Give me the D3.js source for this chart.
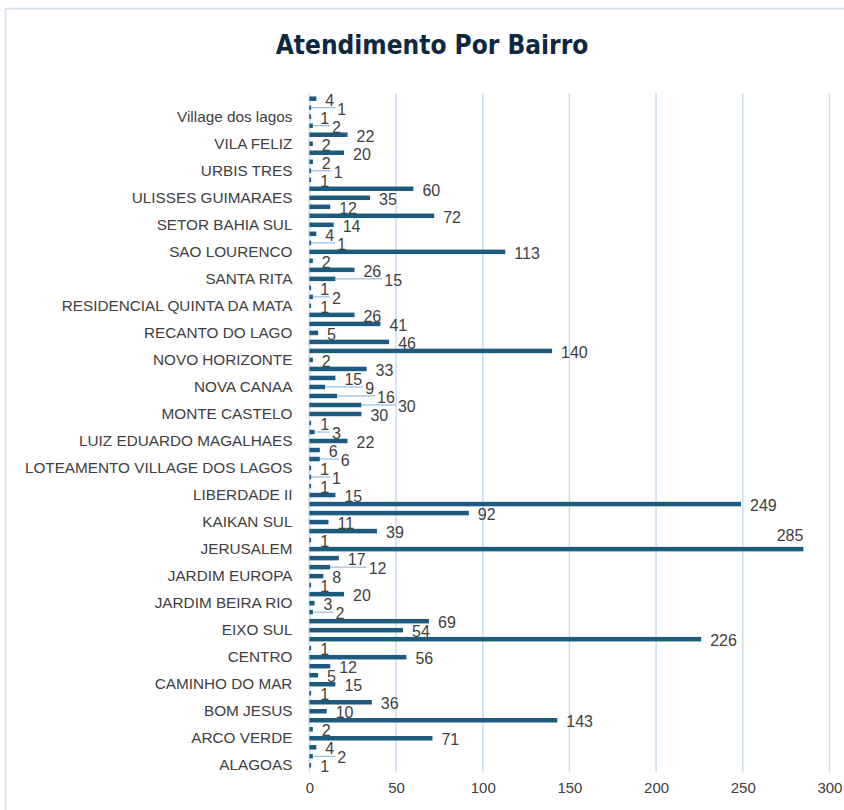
<!DOCTYPE html>
<html>
<head>
<meta charset="utf-8">
<script src="https://cdn.jsdelivr.net/npm/d3@7"></script>
<style>
  body { margin: 0; background: #fff; }
  svg { display: block; }
</style>
</head>
<body>
<svg id="chart" width="844" height="810"></svg>
<script>
// valors per categoria, de baix a dalt (ordre alfabètic, com a l'Excel)
const values = [1, 2, 4, 71, 2, 143, 10, 36, 1, 15, 5, 12, 56, 1, 226, 54, 69, 2, 3, 20,
                1, 8, 12, 17, 285, 1, 39, 11, 92, 249, 15, 1, 1, 1, 6, 6, 22, 3, 1, 30,
                30, 16, 9, 15, 33, 2, 140, 46, 5, 41, 26, 1, 2, 1, 15, 26, 2, 113, 1, 4,
                14, 72, 12, 35, 60, 1, 1, 2, 20, 2, 22, 2, 1, 1, 4];

// només es veu una etiqueta de cada tres categories
const bairros = ["ALAGOAS", "ARCO VERDE", "BOM JESUS", "CAMINHO DO MAR", "CENTRO", "EIXO SUL",
                 "JARDIM BEIRA RIO", "JARDIM EUROPA", "JERUSALEM", "KAIKAN SUL", "LIBERDADE II",
                 "LOTEAMENTO VILLAGE DOS LAGOS", "LUIZ EDUARDO MAGALHAES", "MONTE CASTELO",
                 "NOVA CANAA", "NOVO HORIZONTE", "RECANTO DO LAGO", "RESIDENCIAL QUINTA DA MATA",
                 "SANTA RITA", "SAO LOURENCO", "SETOR BAHIA SUL", "ULISSES GUIMARAES",
                 "URBIS TRES", "VILA FELIZ", "Village dos lagos"];
const labelStep = 3;

const xTicks = [0, 50, 100, 150, 200, 250, 300];

const svg = d3.select("#chart");
const font = "'Liberation Sans', Arial, sans-serif";
const textColor = "#404040";
const barColor = "#1d5a7d";
const gridColor = "#c9dcf0";

const plot = { left: 309.4, right: 829.4, top: 94.2, bottom: 769.8 };

// marc del gràfic
svg.append("rect")
   .attr("x", 5.5).attr("y", 8.5)
   .attr("width", 1000).attr("height", 1000)
   .attr("fill", "#fff")
   .attr("stroke", "#d3dfec")
   .attr("stroke-width", 1.5);

// títol
svg.append("text")
   .attr("x", 432)
   .attr("y", 54)
   .attr("text-anchor", "middle")
   .attr("font-family", "'DejaVu Sans Condensed', 'Roboto', sans-serif")
   .attr("font-weight", "bold")
   .attr("font-size", 26)
   .attr("fill", "#0e2841")
   .text("Atendimento Por Bairro");

const x = d3.scaleLinear()
            .domain([0, 300])
            .range([plot.left, plot.right]);

const y = d3.scaleBand()
            .domain(d3.range(values.length))
            .range([plot.bottom, plot.top])
            .paddingInner(0.5)
            .paddingOuter(0.25);

// línies de graella
svg.append("g")
   .selectAll("line")
   .data(xTicks)
   .enter()
   .append("line")
   .attr("x1", d => x(d)).attr("x2", d => x(d))
   .attr("y1", plot.top - 1).attr("y2", plot.bottom + 2)
   .attr("stroke", gridColor)
   .attr("stroke-width", 1.5);

// eix X
const xAxis = svg.append("g")
   .attr("transform", `translate(0,${plot.bottom})`)
   .call(d3.axisBottom(x).tickValues(xTicks).tickSize(0).tickPadding(13));
xAxis.select(".domain").remove();
xAxis.selectAll("text")
     .attr("font-family", font)
     .attr("font-size", 15)
     .attr("fill", textColor);

// eix Y (etiquetes cada tres categories)
const yAxis = svg.append("g")
   .attr("transform", `translate(${plot.left},0)`)
   .call(d3.axisLeft(y)
           .tickValues(d3.range(0, values.length, labelStep))
           .tickFormat(i => bairros[i / labelStep])
           .tickSize(0)
           .tickPadding(17));
yAxis.select(".domain").remove();
yAxis.selectAll("text")
     .attr("font-family", font)
     .attr("font-size", 15.3)
     .attr("fill", textColor);

// barres
const data = values.map((v, i) => ({ i, v }));
svg.append("g")
   .selectAll("rect")
   .data(data)
   .enter()
   .append("rect")
   .attr("x", x(0))
   .attr("y", d => y(d.i))
   .attr("width", d => x(d.v) - x(0))
   .attr("height", y.bandwidth())
   .attr("fill", barColor);

// etiquetes de dades: a l'extrem, desplaçades si xoquen amb l'anterior
const labelSize = 16;
const charW = labelSize * 0.556;
const placed = [];
const topDown = data.slice().reverse();
topDown.forEach(d => {
    d.cy = y(d.i) + y.bandwidth() / 2;
    d.w = String(d.v).length * charW;
    d.lx = x(d.v) + 9;
    d.ly = d.cy + 1.5;
    if (d.lx + d.w > plot.right) {
        // no cap dins l'àrea: va a sobre de la barra
        d.lx = x(d.v) - d.w;
        d.ly = d.cy - 14;
    }
    placed.forEach(p => {
        if (Math.abs(p.ly - d.ly) < 10 && d.lx < p.lx + p.w + 2 && d.lx + d.w > p.lx - 2) {
            d.lx = p.lx + p.w + 3;
        }
    });
    d.leader = d.lx - x(d.v) > 13;
    placed.push(d);
});

svg.append("g")
   .selectAll("line")
   .data(topDown.filter(d => d.leader))
   .enter()
   .append("line")
   .attr("x1", d => x(d.v))
   .attr("x2", d => d.lx - 2)
   .attr("y1", d => d.cy).attr("y2", d => d.cy)
   .attr("stroke", "#7eb0e0")
   .attr("stroke-width", 1);

svg.append("g")
   .selectAll("text")
   .data(topDown)
   .enter()
   .append("text")
   .attr("x", d => d.lx)
   .attr("y", d => d.ly)
   .attr("dominant-baseline", "central")
   .attr("font-family", font)
   .attr("font-size", labelSize)
   .attr("fill", textColor)
   .text(d => d.v);
</script>
</body>
</html>
